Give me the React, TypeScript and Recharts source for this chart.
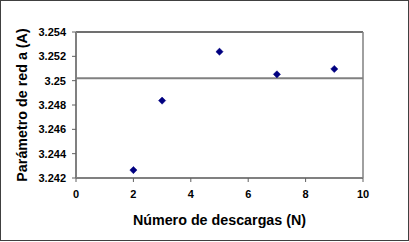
import React from 'react';
import { ScatterChart, Scatter, XAxis, YAxis, ReferenceLine, Label } from 'recharts';

const descargas = [2, 3, 5, 7, 9];
const parametro = [3.24265, 3.24836, 3.25238, 3.25052, 3.25096];
const referencia = 3.2502;
const xTicks = [0, 2, 4, 6, 8, 10];
const yTicks = [3.242, 3.244, 3.246, 3.248, 3.25, 3.252, 3.254];

const data = descargas.map((n, i) => ({ n, a: parametro[i] }));

const FONT = '"Liberation Sans", Arial, sans-serif';

const Diamond = (props: any) => {
  const { cx, cy } = props;
  const r = 3.6;
  return (
    <polygon
      points={`${cx},${cy - r} ${cx + r},${cy} ${cx},${cy + r} ${cx - r},${cy}`}
      fill="#000080"
      stroke="#000080"
      strokeWidth={0.5}
    />
  );
};

const YTitle = (props: any) => {
  const vb = props.viewBox || { x: 0, y: 0, width: 0, height: 0 };
  const x = vb.x + 22;
  const y = vb.y + vb.height / 2;
  return (
    <text
      x={x}
      y={y}
      transform={`rotate(-90 ${x} ${y})`}
      textAnchor="middle"
      dominantBaseline="central"
      fontFamily={FONT}
      fontSize={14.3}
      fontWeight="bold"
      fill="#000"
    >
      Parámetro de red a (A)
    </text>
  );
};

export default function App() {
  return (
    <div style={{ position: 'absolute', left: 0, top: 0, width: 409, height: 242, background: '#fff' }}>
      <div
        style={{
          position: 'absolute',
          left: 0,
          top: 0,
          width: 409,
          height: 241,
          boxSizing: 'border-box',
          border: '1px solid #404040',
        }}
      />
      <div style={{ position: 'absolute', left: 0, top: 0 }}>
        <ScatterChart width={409} height={242} margin={{ top: 32, right: 46, bottom: 14, left: 0 }}>
          <XAxis
            type="number"
            dataKey="n"
            domain={[0, 10]}
            ticks={xTicks}
            interval={0}
            stroke="#808080"
            strokeWidth={2}
            tickSize={4}
            tickMargin={8}
            tickLine={{ stroke: '#606060', strokeWidth: 1 }}
            tick={{ fill: '#000', fontFamily: FONT, fontSize: 11, fontWeight: 'bold' }}
            height={50}
          >
            <Label
              value="Número de descargas (N)"
              position="insideBottom"
              offset={3}
              fill="#000"
              fontFamily={FONT}
              fontSize={14.3}
              fontWeight="bold"
            />
          </XAxis>
          <YAxis
            type="number"
            dataKey="a"
            domain={[3.242, 3.254]}
            ticks={yTicks}
            interval={0}
            tickFormatter={(v: number) => String(v)}
            stroke="#808080"
            strokeWidth={2}
            tickSize={4}
            tickMargin={6}
            tickLine={{ stroke: '#606060', strokeWidth: 1 }}
            tick={{ fill: '#000', fontFamily: FONT, fontSize: 11, fontWeight: 'bold' }}
            width={76}
          >
            <Label content={<YTitle />} />
          </YAxis>
          <ReferenceLine y={3.254} stroke="#404040" strokeWidth={1.5} />
          <ReferenceLine x={10} stroke="#808080" strokeWidth={1.5} />
          <ReferenceLine y={referencia} stroke="#808080" strokeWidth={2} />
          <Scatter data={data} shape={<Diamond />} isAnimationActive={false} />
        </ScatterChart>
      </div>
    </div>
  );
}
